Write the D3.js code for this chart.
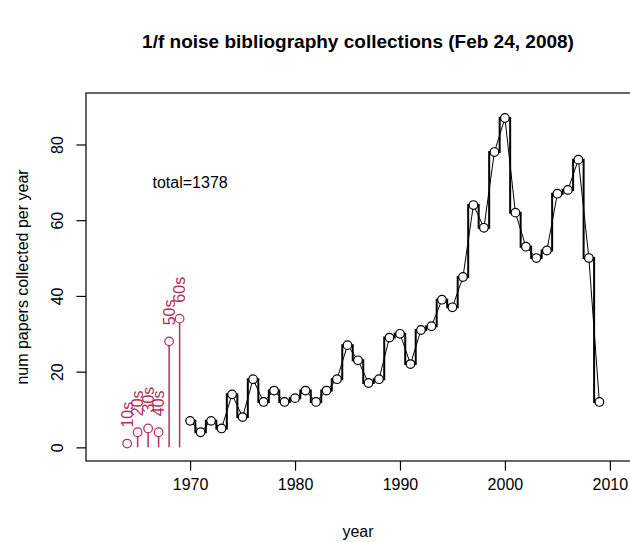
<!DOCTYPE html>
<html><head><meta charset="utf-8">
<script src="https://cdn.jsdelivr.net/npm/d3@7/dist/d3.min.js"></script>
<style>
body{margin:0;background:#fff}
text{font-family:"Liberation Sans", Arial, Helvetica, sans-serif; fill:#000}
</style>
</head><body>
<svg id="chart" width="630" height="542"></svg>
<script>
// ---- data ----
const decadeLabels = ["10s","20s","30s","40s","50s","60s"];
const decadeYears  = [1964,1965,1966,1967,1968,1969];
const decadeCounts = [1,4,5,4,28,34];

const years = [1970,1971,1972,1973,1974,1975,1976,1977,1978,1979,
               1980,1981,1982,1983,1984,1985,1986,1987,1988,1989,
               1990,1991,1992,1993,1994,1995,1996,1997,1998,1999,
               2000,2001,2002,2003,2004,2005,2006,2007,2008,2009];
const counts = [7,4,7,5,14,8,18,12,15,12,
                13,15,12,15,18,27,23,17,18,29,
                30,22,31,32,39,37,45,64,58,78,
                87,62,53,50,52,67,68,76,50,12];

const xTicks = [1970,1980,1990,2000,2010];
const yTicks = [0,20,40,60,80];
const xLim = [1962,2010];
const yLim = [0,90];
const titleText = "1/f noise bibliography collections (Feb 24, 2008)";
const xLabel = "year";
const yLabel = "num papers collected per year";
const totalLabel = "total=" + (d3.sum(counts) + d3.sum(decadeCounts));

// ---- layout ----
const plot = {left:86, right:630, top:93, bottom:461};
const ext = l => { const d = (l[1]-l[0])*0.04; return [l[0]-d, l[1]+d]; };
const x = d3.scaleLinear().domain(ext(xLim)).range([plot.left, plot.right]);
const y = d3.scaleLinear().domain(ext(yLim)).range([plot.bottom, plot.top]);
const red = "#b03060";
const fs = 16;
const ff = '"Liberation Sans", Arial, sans-serif';

const svg = d3.select("#chart");
svg.append("rect").attr("width",630).attr("height",542).attr("fill","#fff");

// title
svg.append("text").attr("x", (plot.left+plot.right)/2).attr("y", 48)
  .attr("text-anchor","middle").attr("font-weight","bold").attr("font-size",19)
  .text(titleText);

// box
svg.append("rect").attr("x",plot.left).attr("y",plot.top)
  .attr("width",plot.right-plot.left+2).attr("height",plot.bottom-plot.top)
  .attr("fill","none").attr("stroke","#000").attr("stroke-width",1.2);

// axes
const xAxis = d3.axisBottom(x).tickValues(xTicks).tickFormat(d3.format("d"))
  .tickSizeInner(9.6).tickSizeOuter(0).tickPadding(0);
const gx = svg.append("g").attr("transform",`translate(0,${plot.bottom})`).call(xAxis);
gx.select(".domain").remove();
gx.selectAll(".tick text").attr("font-size",fs).attr("dy",null).attr("y",29)
  .attr("font-family",ff).attr("fill","#000");
gx.selectAll(".tick line").attr("stroke","#000").attr("stroke-width",1.2);

const yAxis = d3.axisLeft(y).tickValues(yTicks).tickSizeInner(9.6).tickSizeOuter(0).tickPadding(0);
const gy = svg.append("g").attr("transform",`translate(${plot.left},0)`).call(yAxis);
gy.select(".domain").remove();
gy.selectAll(".tick line").attr("stroke","#000").attr("stroke-width",1.2);
gy.selectAll(".tick text").attr("font-size",fs).attr("dy",null).attr("x",null)
  .attr("font-family",ff).attr("fill","#000")
  .attr("text-anchor","middle")
  .attr("transform","translate(-23,0) rotate(-90)");

// axis titles
svg.append("text").attr("x",(plot.left+plot.right)/2).attr("y",537)
  .attr("text-anchor","middle").attr("font-size",fs).text(xLabel);
svg.append("text").attr("transform",`translate(28,${(plot.top+plot.bottom)/2}) rotate(-90)`)
  .attr("text-anchor","middle").attr("font-size",fs).text(yLabel);

// red decade stems
const dec = decadeYears.map((yr,i)=>({yr, v:decadeCounts[i], lab:decadeLabels[i]}));
svg.append("g").selectAll("line").data(dec).join("line")
  .attr("x1",d=>x(d.yr)).attr("x2",d=>x(d.yr))
  .attr("y1",y(0)).attr("y2",d=>y(d.v))
  .attr("stroke",red).attr("stroke-width",1.5);
svg.append("g").selectAll("circle").data(dec).join("circle")
  .attr("cx",d=>x(d.yr)).attr("cy",d=>y(d.v)).attr("r",4.3)
  .attr("fill","#fff").attr("stroke",red).attr("stroke-width",1.2);
svg.append("g").selectAll("text").data(dec).join("text")
  .attr("transform",d=>`translate(${x(d.yr)},${y(d.v)-16}) rotate(-90)`)
  .attr("dy","0.36em").attr("font-size",fs).style("fill",red)
  .text(d=>d.lab);

// main series
const pts = years.map((yr,i)=>({yr, v:counts[i]}));
svg.append("path").datum(pts)
  .attr("d", d3.line().x(d=>x(d.yr)).y(d=>y(d.v)).curve(d3.curveStep))
  .attr("fill","none").attr("stroke","#000").attr("stroke-width",2);
svg.append("path").datum(pts)
  .attr("d", d3.line().x(d=>x(d.yr)).y(d=>y(d.v)))
  .attr("fill","none").attr("stroke","#000").attr("stroke-width",1);
svg.append("g").selectAll("circle").data(pts).join("circle")
  .attr("cx",d=>x(d.yr)).attr("cy",d=>y(d.v)).attr("r",4.3)
  .attr("fill","#fff").attr("stroke","#000").attr("stroke-width",1.2);

// total annotation
svg.append("text").attr("x",x(1970)).attr("y",y(70))
  .attr("text-anchor","middle").attr("dominant-baseline","central")
  .attr("font-size",fs).text(totalLabel);
</script>
</body></html>
